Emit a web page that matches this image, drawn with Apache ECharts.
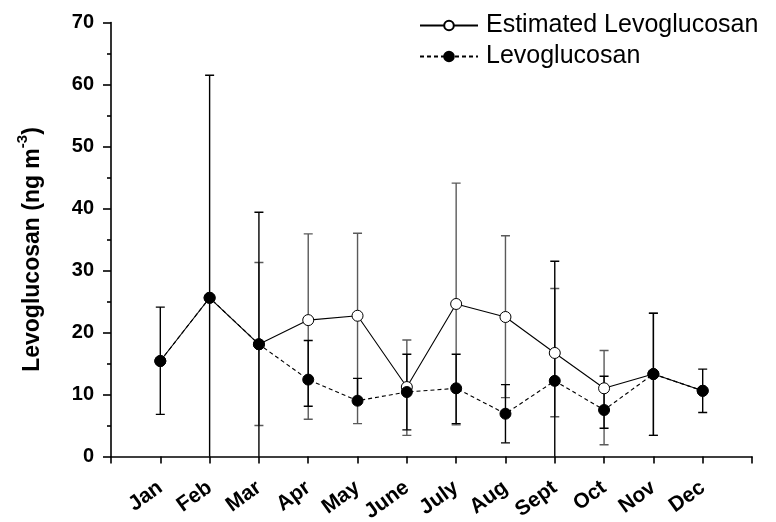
<!DOCTYPE html>
<html>
<head>
<meta charset="utf-8">
<script src="https://cdn.jsdelivr.net/npm/echarts@6/dist/echarts.min.js"></script>
<style>
html,body{margin:0;padding:0;background:#fff;}
#chart{width:776px;height:522px;}
</style>
</head>
<body>
<div id="chart"></div>
<script>
// ---- data ----
const months = ['Jan','Feb','Mar','Apr','May','June','July','Aug','Sept','Oct','Nov','Dec'];
const yTicks = [0,10,20,30,40,50,60,70];

// Estimated Levoglucosan (open circles, solid line)
const estimated     = [15.4, 25.6, 18.1, 22.0, 22.7, 11.2, 24.6, 22.5, 16.7, 11.0, 13.3, 10.6];
const estimatedHigh = [null, null, 31.3, 35.9, 36.0, 18.8, 44.1, 35.6, 27.1, 17.1, 23.1, null];
const estimatedLow  = [null, null,  5.0,  6.0,  5.3,  3.4,  5.1,  9.5,  6.4,  1.9,  3.4, null];

// Levoglucosan (filled circles, dashed line)
const levo     = [15.4, 25.6, 18.1, 12.4,  9.0, 10.4, 11.0,  6.9, 12.2,  7.5, 13.3, 10.6];
const levoHigh = [24.1, 61.5, 39.4, 18.7, 12.6, 16.5, 16.5, 11.6, 31.5, 12.95, 23.1, 14.1];
const levoLow  = [ 6.8, -10.3, -3.2, 8.1,  8.5,  4.3,  5.3,  2.2, -7.1,  4.55,  3.4,  7.1];

const FONT = 'Liberation Sans, Arial, Helvetica, sans-serif';

function pts(vals) { return vals.map((v, i) => [i + 1, v]); }
function bars(lo, hi) {
  const out = [];
  lo.forEach((l, i) => { if (l != null && hi[i] != null) out.push([i + 1, l, hi[i]]); });
  return out;
}
function errRender(color) {
  return function (params, api) {
    const x = api.value(0), lo = api.value(1), hi = api.value(2);
    const a = api.coord([x, hi]), b = api.coord([x, lo]);
    const w = 4.5;
    const st = { stroke: color, lineWidth: 1.4 };
    return {
      type: 'group',
      children: [
        { type: 'line', shape: { x1: a[0], y1: a[1], x2: b[0], y2: b[1] }, style: st },
        { type: 'line', shape: { x1: a[0] - w, y1: a[1], x2: a[0] + w, y2: a[1] }, style: st },
        { type: 'line', shape: { x1: b[0] - w, y1: b[1], x2: b[0] + w, y2: b[1] }, style: st }
      ]
    };
  };
}

const chart = echarts.init(document.getElementById('chart'), null, { renderer: 'canvas' });
chart.setOption({
  animation: false,
  backgroundColor: '#fff',
  grid: { left: 111, right: 24, top: 22.5, bottom: 65.5, containLabel: false, outerBoundsMode: 'none' },
  legend: {
    orient: 'vertical',
    left: 414,
    top: 8,
    itemWidth: 58,
    itemHeight: 12,
    itemGap: 6,
    data: ['Estimated Levoglucosan', 'Levoglucosan'],
    textStyle: { fontFamily: FONT, fontSize: 25, color: '#000', padding: [0, 0, 0, 3] }
  },
  xAxis: {
    type: 'value',
    min: 0, max: 13, interval: 1,
    axisLine: { show: true, lineStyle: { color: '#000', width: 1.6 } },
    axisTick: { show: true, length: 7, lineStyle: { color: '#000', width: 1.6 } },
    splitLine: { show: false },
    axisLabel: {
      rotate: 36,
      margin: 29,
      fontFamily: FONT, fontSize: 21, fontWeight: 'bold', color: '#000',
      formatter: v => (v >= 1 && v <= 12 ? months[v - 1] : '')
    }
  },
  yAxis: {
    type: 'value',
    min: yTicks[0], max: yTicks[yTicks.length - 1], interval: 10,
    name: 'Levoglucosan (ng m{sup|-3})',
    nameLocation: 'middle',
    nameGap: 67,
    nameTextStyle: {
      fontFamily: FONT, fontSize: 23, fontWeight: 'bold', color: '#000',
      padding: [0, 20, 0, 0],
      rich: {
        sup: { fontFamily: FONT, fontSize: 15, fontWeight: 'bold', color: '#000',
               lineHeight: 15, padding: [0, 0, 14, 0], verticalAlign: 'bottom' }
      }
    },
    axisLine: { show: true, lineStyle: { color: '#000', width: 1.6 } },
    axisTick: { show: true, length: 8, lineStyle: { color: '#000', width: 1.6 } },
    minorTick: { show: true, splitNumber: 2, length: 4, lineStyle: { color: '#000', width: 1.6 } },
    splitLine: { show: false },
    axisLabel: { margin: 17, fontFamily: FONT, fontSize: 20, fontWeight: 'bold', color: '#000' }
  },
  series: [
    {
      type: 'custom', name: 'estErr', clip: true, z: 1,
      renderItem: errRender('#5a5a5a'),
      encode: { x: 0, y: [1, 2] },
      data: bars(estimatedLow, estimatedHigh)
    },
    {
      type: 'custom', name: 'levoErr', clip: true, z: 2,
      renderItem: errRender('#000'),
      encode: { x: 0, y: [1, 2] },
      data: bars(levoLow, levoHigh)
    },
    {
      type: 'line', name: 'Estimated Levoglucosan', z: 3,
      data: pts(estimated),
      symbol: 'circle', symbolSize: 11,
      itemStyle: { color: '#fff', borderColor: '#000', borderWidth: 1 },
      lineStyle: { color: '#000', width: 1.1 }
    },
    {
      type: 'line', name: 'Levoglucosan', z: 4,
      data: pts(levo),
      symbol: 'circle', symbolSize: 11,
      itemStyle: { color: '#000', borderColor: '#000', borderWidth: 1 },
      lineStyle: { color: '#000', width: 1.1, type: [4, 3] }
    }
  ]
});
</script>
</body>
</html>
